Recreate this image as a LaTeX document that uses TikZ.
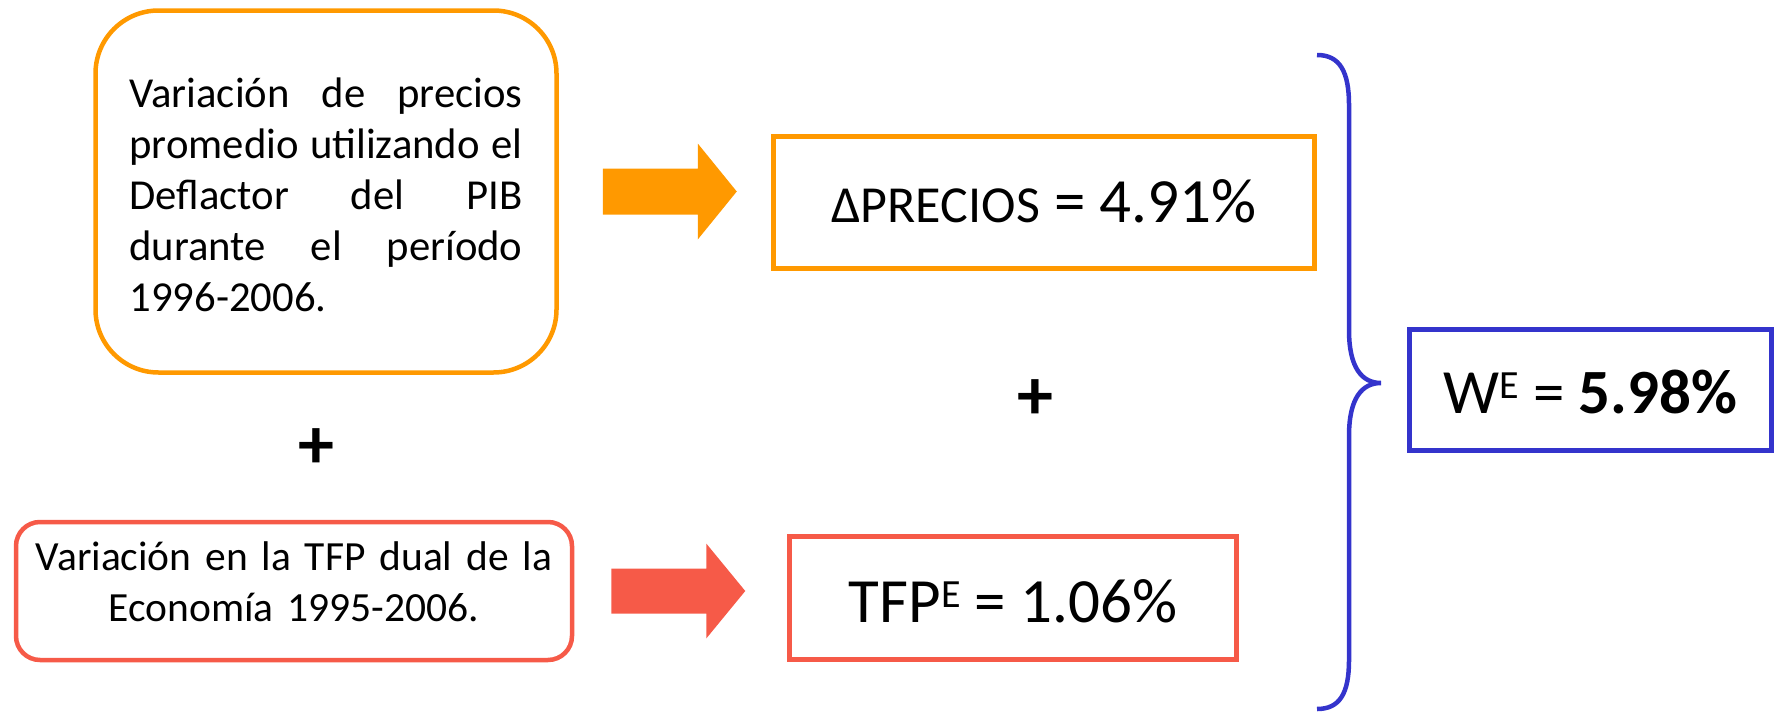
\documentclass[tikz,border=0pt]{standalone}
\usepackage{fontspec}
\setmainfont{Carlito}
\newfontfamily\estrecha{Carlito}[WordSpace=0.65]
\definecolor{naranja}{RGB}{255,153,0}
\definecolor{rojo}{RGB}{246,90,72}
\definecolor{azul}{RGB}{52,52,204}
\begin{document}
\begin{tikzpicture}[x=1pt, y=-1pt,
  caja/.style={draw, line width=4.5pt, inner sep=0pt, anchor=base},
  texto/.style={font=\fontsize{42.7}{51}\selectfont},
  grande/.style={font=\fontsize{63}{75}\selectfont},
  suma/.style={font=\fontsize{72}{80}\selectfont\bfseries, inner sep=0pt}]
  \useasboundingbox (0,0) rectangle (1783,712);
  % cajas de la izquierda
  \node[caja, texto, draw=naranja, rounded corners=63pt, text width=393pt, align=justify,
        inner xsep=34pt, text height=96.5pt, text depth=265.5pt] (deflactor) at (326,107)
    {Variación de precios\linebreak promedio utilizando el\linebreak Deflactor del PIB\linebreak durante el período\linebreak 1996-2006.};
  \node[caja, font=\estrecha\fontsize{41.5}{51}\selectfont, draw=rojo,
        rounded corners=24pt, text width=556pt, align=center, text height=48pt, text depth=90pt]
    (tfpdual) at (294,570) {Variación en la TFP dual de la\\ Economía 1995-2006.};
  \node[suma] (mas1) at (316,449) {+};
  % flechas
  \fill[naranja] (deflactor.east) ++(44,-23) -- ++(95,0) -- ++(0,-25) -- ++(39,48)
    -- ++(-39,48) -- ++(0,-25) -- ++(-95,0) -- cycle;
  \fill[rojo] (tfpdual.east) ++(37,-22.5) -- ++(95,0) -- ++(0,-25) -- ++(39,47.5)
    -- ++(-39,47.5) -- ++(0,-25) -- ++(-95,0) -- cycle;
  % resultados
  \node[caja, grande, draw=naranja, minimum width=541pt, text height=85.5pt, text depth=46.5pt]
    (precios) at (1044,222) {{\fontsize{52}{60}\selectfont ΔPRECIOS} = 4.91\%};
  \node[caja, grande, draw=rojo, minimum width=447pt, text height=85.5pt, text depth=37.5pt]
    (tfp) at (1013,622) {TFP\raisebox{15pt}{\fontsize{40}{44}\selectfont E} = 1.06\%};
  \node[suma] (mas2) at (1035,400) {+};
  % llave
  \draw[azul, line width=4.5pt] (1317,55) .. controls (1340,55) and (1349,72) .. (1349,105)
    -- (1349,330) .. controls (1349,368) and (1362,383) .. (1381,383)
    .. controls (1362,383) and (1349,398) .. (1349,436)
    -- (1349,660) .. controls (1349,693) and (1340,709) .. (1317,709);
  \node[caja, grande, draw=azul, minimum width=362pt, text height=83.5pt, text depth=37.5pt]
    (salario) at (1590.5,413) {W\raisebox{15pt}{\fontsize{40}{44}\selectfont E} = \textbf{5.98\%}};
\end{tikzpicture}
\end{document}
